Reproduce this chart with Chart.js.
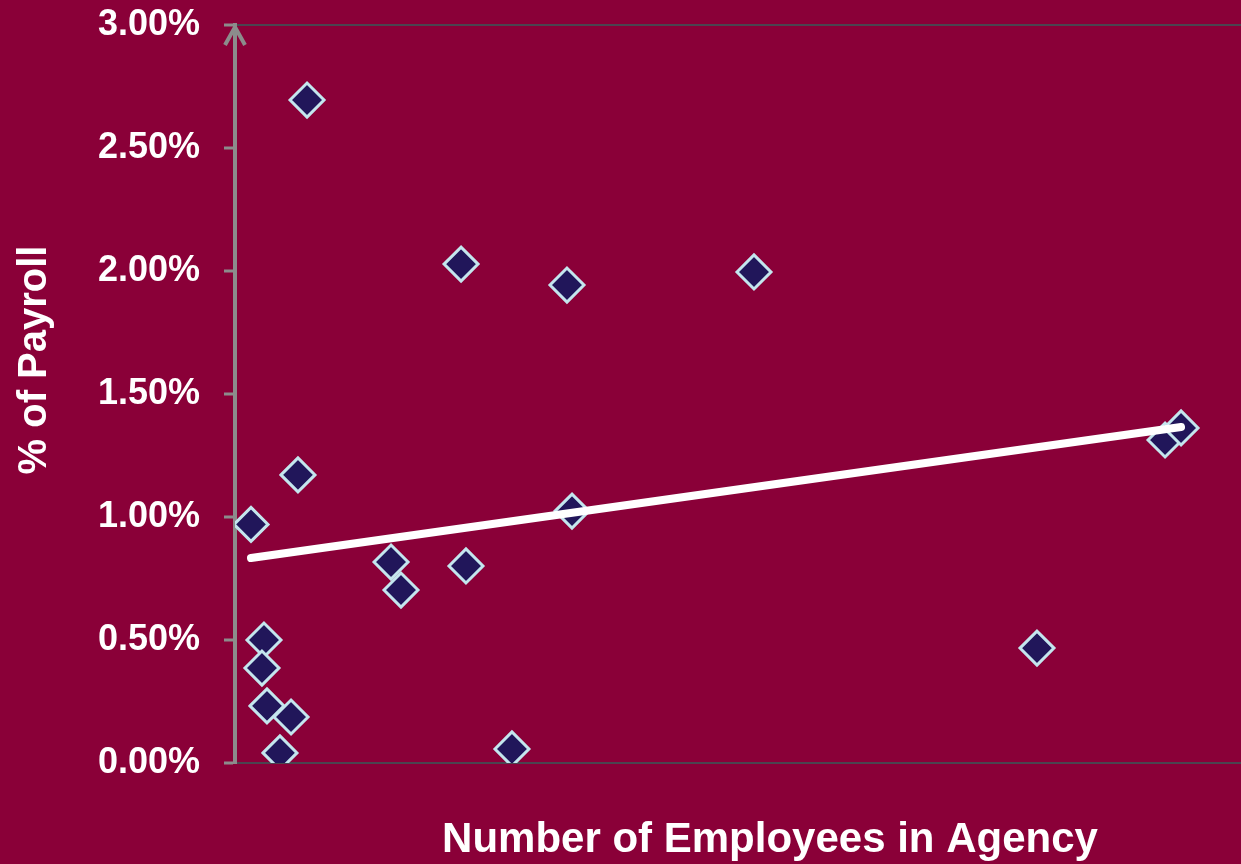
<!DOCTYPE html>
<html>
<head>
<meta charset="utf-8">
<title>% of Payroll vs Number of Employees</title>
<script src="https://cdn.jsdelivr.net/npm/chart.js@4.4.1/dist/chart.umd.min.js"></script>
<style>
  html, body { margin: 0; padding: 0; background: #8a0038; }
  #wrap { width: 1241px; height: 864px; position: relative; }
</style>
</head>
<body>
<div id="wrap"><canvas id="payrollChart"></canvas></div>
<script>
// agencies: headcount and cost as % of payroll
const employees = [159, 716, 288, 268, 318, 557, 447, 626, 1551, 1650, 2247, 2296, 2753, 3300, 3350, 5159, 7972, 9245, 9404];
const payrollPct = [0.97, 2.695, 0.50, 0.386, 0.232, 0.187, 0.041, 1.171, 0.817, 0.703, 2.028, 0.801, 0.057, 1.943, 1.024, 1.996, 0.467, 1.313, 1.362];

// linear trend endpoints
const trendX = [159, 9404];
const trendY = [0.833, 1.366];

const yTicks = [0, 0.5, 1, 1.5, 2, 2.5, 3];

const FONT = "'Liberation Sans', Arial, sans-serif";
const AXIS_GRAY = '#8c8c8c';

// arrow head on the y axis + the two axis titles
const axisDecor = {
  id: 'axisDecor',
  afterDraw(chart) {
    const { ctx, chartArea } = chart;
    const x = chart.scales.y.right;
    const top = chartArea.top;
    ctx.save();
    ctx.strokeStyle = AXIS_GRAY;
    ctx.lineWidth = 4;
    ctx.lineCap = 'butt';
    ctx.beginPath();
    ctx.moveTo(x - 10, top + 20);
    ctx.lineTo(x, top + 2);
    ctx.lineTo(x + 10, top + 20);
    ctx.stroke();

    ctx.fillStyle = '#ffffff';
    ctx.font = 'bold 42px ' + FONT;
    ctx.textAlign = 'center';
    ctx.textBaseline = 'alphabetic';
    ctx.fillText('Number of Employees in Agency', 770, 852);

    ctx.font = 'bold 40px ' + FONT;
    ctx.translate(46, 360);
    ctx.rotate(-Math.PI / 2);
    ctx.fillText('% of Payroll', 0, 0);
    ctx.restore();
  }
};

new Chart(document.getElementById('payrollChart'), {
  type: 'scatter',
  data: {
    datasets: [
      {
        type: 'line',
        data: trendX.map((x, i) => ({ x, y: trendY[i] })),
        borderColor: '#ffffff',
        borderWidth: 8,
        borderCapStyle: 'round',
        pointRadius: 0,
        fill: false,
        order: 0
      },
      {
        data: employees.map((x, i) => ({ x, y: payrollPct[i] })),
        pointStyle: 'rectRot',
        pointRadius: 17,
        pointHoverRadius: 17,
        backgroundColor: '#21165a',
        borderColor: '#c4e6ee',
        borderWidth: 3,
        order: 1
      }
    ]
  },
  options: {
    responsive: true,
    maintainAspectRatio: false,
    animation: false,
    layout: { autoPadding: false, padding: { top: 25, bottom: 101, left: 0, right: 0 } },
    plugins: {
      legend: { display: false },
      tooltip: { enabled: false }
    },
    scales: {
      x: {
        type: 'linear',
        min: 0,
        max: 10000,
        display: false
      },
      y: {
        min: 0,
        max: 3,
        afterBuildTicks: scale => { scale.ticks = yTicks.map(v => ({ value: v })); },
        afterFit: scale => {
          scale.width = 235;
          scale.paddingTop = 0;
          scale.paddingBottom = 0;
        },
        ticks: {
          color: '#ffffff',
          padding: 24,
          font: { family: FONT, size: 36, weight: 'bold' },
          callback: v => v.toFixed(2) + '%'
        },
        grid: {
          drawOnChartArea: true,
          color: ctx => (ctx.tick && (ctx.tick.value === 0 || ctx.tick.value === 3)) ? '#4b4450' : 'rgba(0,0,0,0)',
          lineWidth: 2,
          tickLength: 11,
          tickColor: AXIS_GRAY,
          tickWidth: 3
        },
        border: { display: true, color: AXIS_GRAY, width: 4 }
      }
    }
  },
  plugins: [axisDecor]
});
</script>
</body>
</html>
